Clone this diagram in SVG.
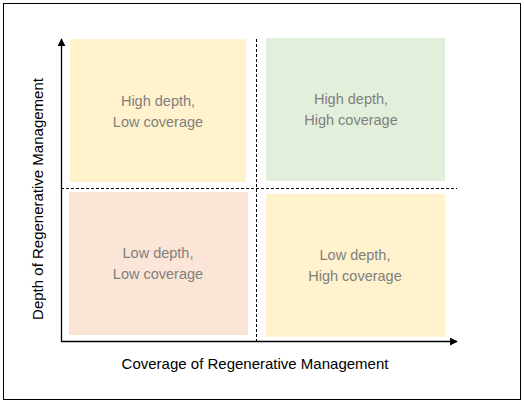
<svg xmlns="http://www.w3.org/2000/svg" width="524" height="404" viewBox="0 0 524 404">
<defs>
<marker id="arr" viewBox="0 0 10 10" refX="9" refY="5" markerWidth="8" markerHeight="8" markerUnits="userSpaceOnUse" orient="auto">
<path d="M0,0 L10,5 L0,10 z" fill="#000"/>
</marker>
<style>
.q{font-family:"Liberation Sans",Arial,sans-serif;font-size:14.5px;fill:#7f7f7f;text-anchor:middle}
.ax{font-family:"Liberation Sans",Arial,sans-serif;font-size:15px;fill:#000;text-anchor:middle}
.dash{stroke:#000;stroke-width:1;stroke-dasharray:3,2;fill:none}
</style>
</defs>
<rect x="0" y="0" width="524" height="404" fill="#fff"/>
<rect x="3.5" y="3.5" width="517" height="396" fill="#fff" stroke="#000" stroke-width="1"/>
<g id="q-high-low">
<rect x="70" y="39" width="176" height="143" fill="#fff2cc"/>
<text class="q" x="158" y="106">High depth,</text>
<text class="q" x="158" y="127">Low coverage</text>
</g>
<g id="q-high-high">
<rect x="266" y="38" width="179" height="143" fill="#e2efda"/>
<text class="q" x="351" y="104">High depth,</text>
<text class="q" x="351" y="125">High coverage</text>
</g>
<g id="q-low-low">
<rect x="69" y="192" width="179" height="143" fill="#fbe5d6"/>
<text class="q" x="158" y="258">Low depth,</text>
<text class="q" x="158" y="279">Low coverage</text>
</g>
<g id="q-low-high">
<rect x="266" y="194" width="179" height="143" fill="#fff2cc"/>
<text class="q" x="355" y="260">Low depth,</text>
<text class="q" x="355" y="281">High coverage</text>
</g>
<g id="connectors">
<line class="dash" x1="256.5" y1="39" x2="256.5" y2="341"/>
<line class="dash" x1="61" y1="188.5" x2="457" y2="188.5"/>
<line x1="61.5" y1="341.5" x2="61.5" y2="39" stroke="#000" stroke-width="1.3" marker-end="url(#arr)"/>
<line x1="61" y1="341.5" x2="457" y2="341.5" stroke="#000" stroke-width="1.3" marker-end="url(#arr)"/>
</g>
<g id="labels">
<text class="ax" x="255" y="369">Coverage of Regenerative Management</text>
<text class="ax" transform="translate(43,199) rotate(-90)" x="0" y="0">Depth of Regenerative Management</text>
</g>
</svg>
